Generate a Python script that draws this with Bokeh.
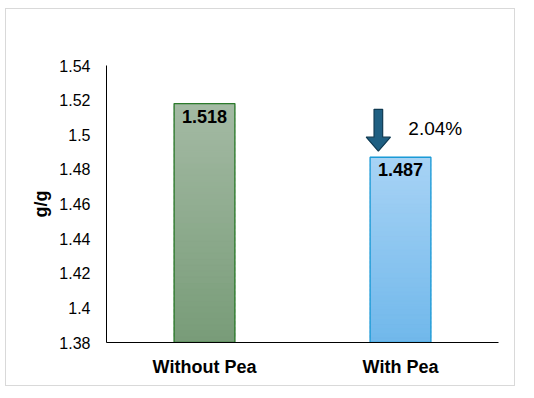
import numpy as np
from bokeh.plotting import figure
from bokeh.models import ColumnDataSource, FixedTicker, CustomJSTickFormatter, Label
from bokeh.core.properties import value
from bokeh.embed import file_html
from bokeh.resources import INLINE

categories = ["Without Pea", "With Pea"]
values = [1.518, 1.487]
value_labels = ["1.518", "1.487"]
y_ticks = [1.38, 1.40, 1.42, 1.44, 1.46, 1.48, 1.50, 1.52, 1.54]
title_text = "FCR (P = 0.023)"
y_label = "g/g"
change_label = "2.04%"

FONT = "Liberation Sans"
y_min, y_max = 1.38, 1.54
bar_w = 0.31
top_colors = [(0xa4, 0xba, 0xa4), (0xa8, 0xd3, 0xf5)]
bot_colors = [(0x78, 0x9c, 0x78), (0x70, 0xb8, 0xeb)]
edge_colors = ["#2b7a2b", "#1a9ad6"]

p = figure(x_range=categories, y_range=(y_min, y_max), width=510, height=378, title=None,
           output_backend="svg", toolbar_location=None,
           min_border_left=100, min_border_right=18, min_border_top=56, min_border_bottom=45,
           styles={"border": "1px solid #d9d9d9", "margin-left": "5px", "margin-top": "8px"})
p.x_range.range_padding = 0
p.outline_line_color = None
p.grid.grid_line_color = None

# title as an unclipped label centred over the whole chart box, above the frame
title_x = 0.79   # position across the categorical range (0..2)
title_dy = 0.0182  # above the top of the y range
p.add_layout(Label(x=title_x, y=y_max + title_dy, text=title_text, text_align="center",
                   text_baseline="middle", text_font=FONT, text_font_size="18px",
                   text_font_style="bold", text_color="#000000"))

# gradient bars built from overlapping strips
N = 40
for i, (cat, v) in enumerate(zip(categories, values)):
    edges = np.linspace(y_min, v, N + 1)
    step = (v - y_min) / N
    t = (np.arange(N) + 0.5) / N  # 0 bottom -> 1 top
    cols = []
    for tt in t:
        c = [int(round(b + (a - b) * tt)) for a, b in zip(top_colors[i], bot_colors[i])]
        cols.append("#%02x%02x%02x" % tuple(c))
    tops = np.minimum(edges[1:] + step * 0.6, v)
    src = ColumnDataSource(dict(x=[cat] * N, bottom=edges[:-1], top=tops, c=cols))
    p.vbar(x="x", bottom="bottom", top="top", width=bar_w, source=src,
           fill_color="c", line_color="c", line_width=0.5)

p.vbar(x=categories, top=values, bottom=y_min, width=bar_w, fill_alpha=0,
       line_color=edge_colors, line_width=1.3)

p.text(x=categories, y=values, text=value_labels, text_font=value(FONT), text_font_size="18px",
       text_font_style="bold", text_align="center", text_baseline="top", y_offset=6,
       text_color="#000000")

# block arrow above second bar
v2 = values[1]
xc = -0.113
hw, sw = 0.062, 0.022
tip = v2 + 0.0035
head = v2 + 0.0116
topy = v2 + 0.0277
c2 = categories[1]
ax = [(c2, xc - sw), (c2, xc + sw), (c2, xc + sw), (c2, xc + hw), (c2, xc),
      (c2, xc - hw), (c2, xc - sw)]
ay = [topy, topy, head, head, tip, head, head]
p.patch(x=ax, y=ay, fill_color="#1f5f82", line_color="#0f3a52", line_width=1.2)

p.text(x=[(c2, 0.04)], y=[v2 + 0.0168], text=[change_label], text_font=value(FONT),
       text_font_size="19px", text_align="left", text_baseline="middle", text_color="#000000")

# axes
p.yaxis.ticker = FixedTicker(ticks=y_ticks)
p.yaxis.formatter = CustomJSTickFormatter(code="return String(Number(tick.toFixed(2)));")
p.yaxis.major_tick_line_color = None
p.yaxis.minor_tick_line_color = None
p.yaxis.major_tick_out = 0
p.yaxis.major_label_standoff = 16
p.yaxis.major_label_text_font = FONT
p.yaxis.major_label_text_font_size = "16px"
p.yaxis.major_label_text_color = "#000000"
p.yaxis.axis_line_color = "#000000"
p.yaxis.axis_label = y_label
p.yaxis.axis_label_text_font = FONT
p.yaxis.axis_label_text_font_size = "18px"
p.yaxis.axis_label_text_font_style = "bold"
p.yaxis.axis_label_text_color = "#000000"
p.yaxis.axis_label_standoff = 5

p.xaxis.major_tick_line_color = None
p.xaxis.major_tick_out = 0
p.xaxis.major_label_standoff = 14
p.xaxis.major_label_text_font = FONT
p.xaxis.major_label_text_font_size = "18px"
p.xaxis.major_label_text_font_style = "bold"
p.xaxis.major_label_text_color = "#000000"
p.xaxis.axis_line_color = "#000000"

open("out.html", "w").write(file_html(p, INLINE))
